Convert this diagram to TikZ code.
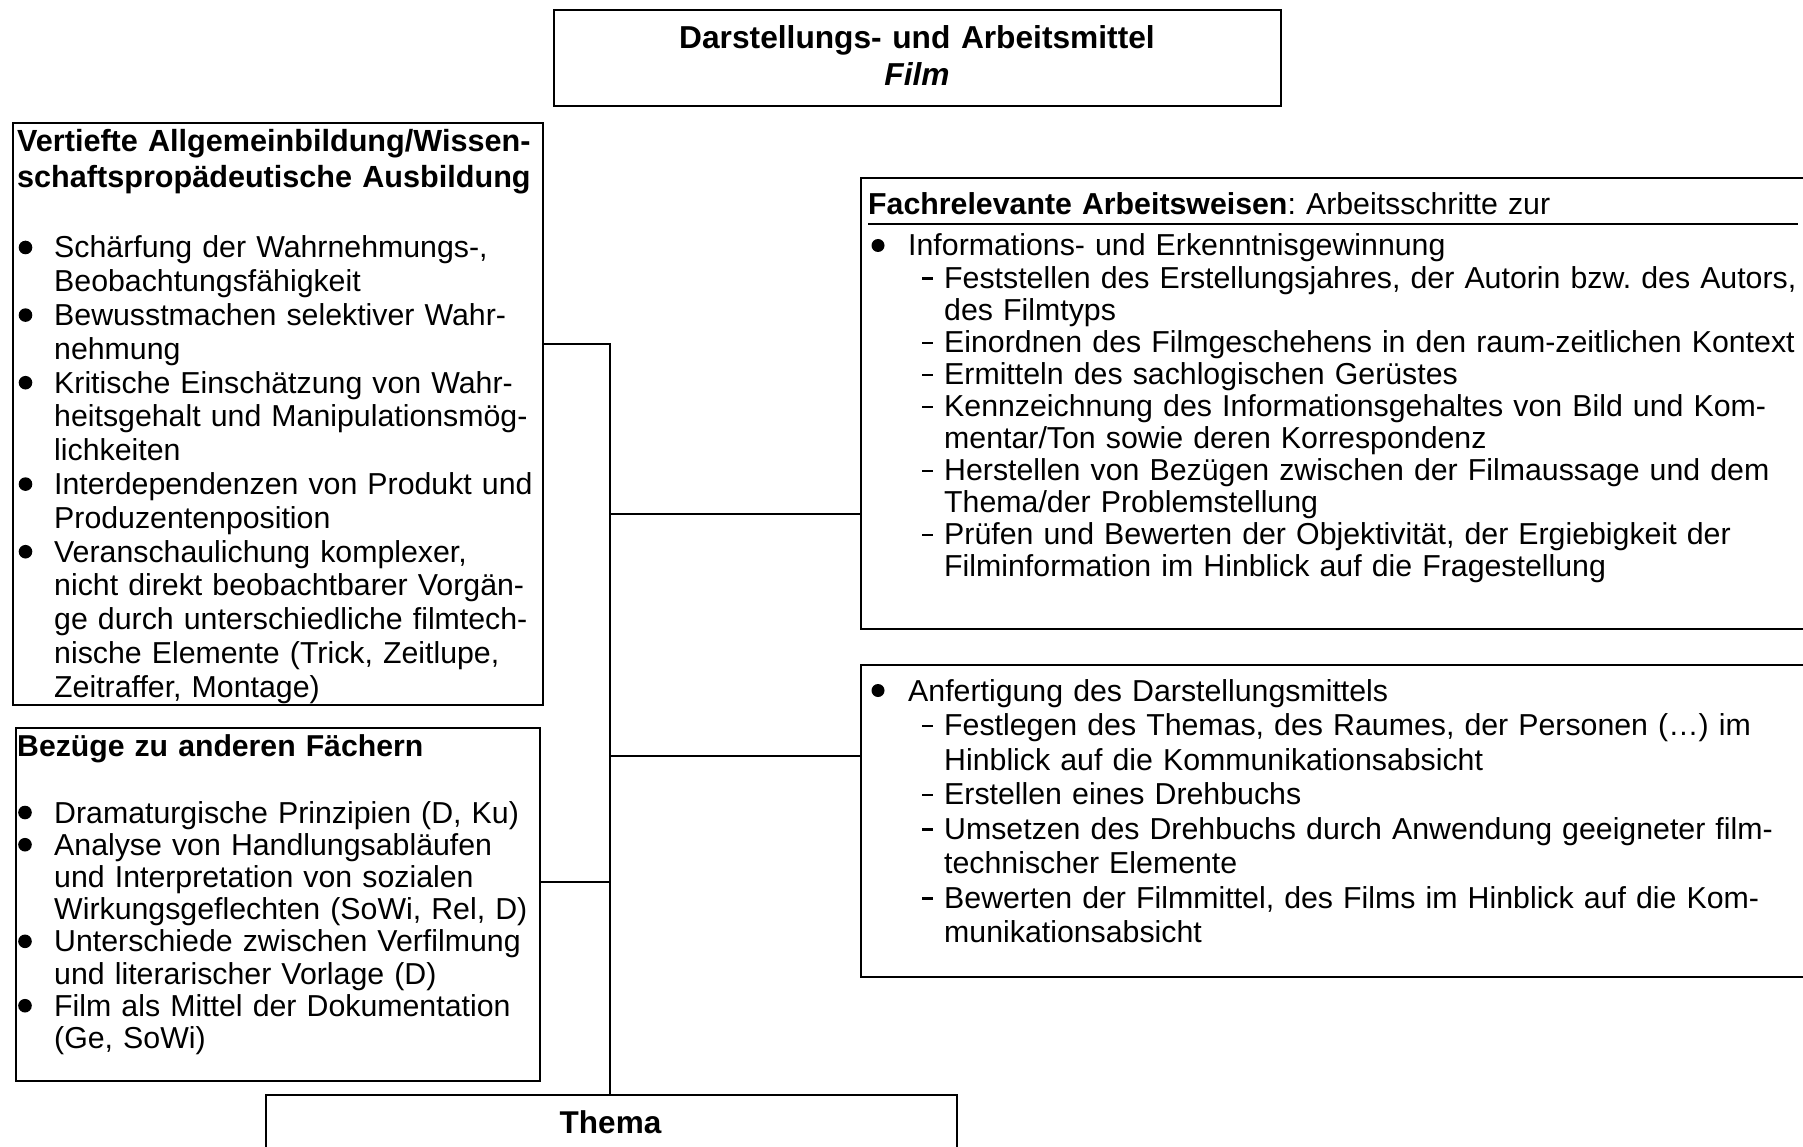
\documentclass[tikz,border=0pt]{standalone}
\usepackage{fontspec}
\setmainfont{Liberation Sans}
\newcommand{\Dsh}{\makebox[36pt][l]{\hspace{14pt}\rule[8.5pt]{11pt}{2.2pt}}}
\newcommand{\Ind}{\hspace*{36pt}}
\begin{document}
\frenchspacing
\begin{tikzpicture}[x=1pt,y=-1pt,
  box/.style={draw, line width=2pt, rectangle, inner sep=0pt, anchor=north west},
  conn/.style={line width=2pt},
  txt/.style={anchor=base west, inner sep=0pt, align=left, text width=#1},
  fs/.style={font=\fontsize{30.3}{#1}\selectfont},
  bul/.style={fill=black}
]
\clip (0,0) rectangle (1803,1147);
\fill[white] (0,0) rectangle (1803,1147);

% boxes
\node[box, minimum width=727pt, minimum height=96pt] (top) at (553,9) {};
\node[box, minimum width=530pt, minimum height=582pt] (lb1) at (11.5,122) {};
\node[box, minimum width=524pt, minimum height=353pt] (lb2) at (14.5,727) {};
\node[box, minimum width=1000pt, minimum height=451pt] (rb1) at (860,176.7) {};
\node[box, minimum width=1000pt, minimum height=312pt] (rb2) at (860,664) {};
\node[box, minimum width=691pt, minimum height=100pt] (thema) at (265,1093.5) {};

% connectors
\coordinate (j1) at (609.5,344);
\coordinate (j2) at (609.5,514);
\coordinate (j3) at (609.5,756);
\coordinate (j4) at (609.5,882);
\draw[conn] (lb1.east |- j1) -- (j1) -- (j1 |- thema.north);
\draw[conn] (j2) -- (rb1.west |- j2);
\draw[conn] (j3) -- (rb2.west |- j3);
\draw[conn] (lb2.east |- j4) -- (j4);

% title
\node[anchor=base, inner sep=0pt, align=center, text width=700pt, font=\bfseries\fontsize{31.7}{37}\selectfont] (title) at (917,49)
  {Darstellungs- und Arbeitsmittel\\\textit{Film}};

% left box 1
\node[txt=520pt, font=\bfseries\fontsize{30.6}{35.5}\selectfont] (h1) at (17,152)
  {Vertiefte Allgemeinbildung/Wissen-\\schaftspropädeutische Ausbildung};
\node[txt=500pt, fs=33.8] (t1) at (54,258)
  {Schärfung der Wahrnehmungs-,\\
   Beobachtungsfähigkeit\\
   Bewusstmachen selektiver Wahr-\\
   nehmung\\
   Kritische Einschätzung von Wahr-\\
   heitsgehalt und Manipulationsmög-\\
   lichkeiten\\
   Interdependenzen von Produkt und\\
   Produzentenposition\\
   Veranschaulichung komplexer,\\
   nicht direkt beobachtbarer Vorgän-\\
   ge durch unterschiedliche filmtech-\\
   nische Elemente (Trick, Zeitlupe,\\
   Zeitraffer, Montage)};
\foreach \k in {0,2,4,7,9} \fill[bul] (25.5,{258+\k*33.8-10.5}) circle (6.8pt);

% left box 2
\node[txt=500pt, font=\bfseries\fontsize{30.2}{34}\selectfont] (h2) at (17,756)
  {Bezüge zu anderen Fächern};
\node[txt=500pt, fs=32.2] (t2) at (54,823)
  {Dramaturgische Prinzipien (D, Ku)\\
   Analyse von Handlungsabläufen\\
   und Interpretation von sozialen\\
   Wirkungsgeflechten (SoWi, Rel, D)\\
   Unterschiede zwischen Verfilmung\\
   und literarischer Vorlage (D)\\
   Film als Mittel der Dokumentation\\
   (Ge, SoWi)};
\foreach \k in {0,1,4,6} \fill[bul] (25,{823+\k*32.2-10.5}) circle (6.8pt);

% right box 1
\node[txt=950pt, fs=34] (h3) at (868,214.5)
  {\textbf{Fachrelevante Arbeitsweisen}: Arbeitsschritte zur};
\draw[conn] (868,223.7) -- (1798,223.7);
\node[txt=950pt, fs=32.1] (t3) at (908,256)
  {Informations- und Erkenntnisgewinnung\\
   \Dsh Feststellen des Erstellungsjahres, der Autorin bzw. des Autors,\\
   \Ind des Filmtyps\\
   \Dsh Einordnen des Filmgeschehens in den raum-zeitlichen Kontext\\
   \Dsh Ermitteln des sachlogischen Gerüstes\\
   \Dsh Kennzeichnung des Informationsgehaltes von Bild und Kom-\\
   \Ind mentar/Ton sowie deren Korrespondenz\\
   \Dsh Herstellen von Bezügen zwischen der Filmaussage und dem\\
   \Ind Thema/der Problemstellung\\
   \Dsh Prüfen und Bewerten der Objektivität, der Ergiebigkeit der\\
   \Ind Filminformation im Hinblick auf die Fragestellung};
\fill[bul] (878,{256-10.5}) circle (6.5pt);

% right box 2
\node[txt=950pt, fs=34.5] (t4) at (908,701)
  {Anfertigung des Darstellungsmittels\\
   \Dsh Festlegen des Themas, des Raumes, der Personen (…) im\\
   \Ind Hinblick auf die Kommunikationsabsicht\\
   \Dsh Erstellen eines Drehbuchs\\
   \Dsh Umsetzen des Drehbuchs durch Anwendung geeigneter film-\\
   \Ind technischer Elemente\\
   \Dsh Bewerten der Filmmittel, des Films im Hinblick auf die Kom-\\
   \Ind munikationsabsicht};
\fill[bul] (878,{701-10.5}) circle (6.5pt);

% thema
\node[anchor=base, inner sep=0pt, font=\bfseries\fontsize{31.5}{34}\selectfont] (themat) at (610.5,1133) {Thema};
\end{tikzpicture}
\end{document}
